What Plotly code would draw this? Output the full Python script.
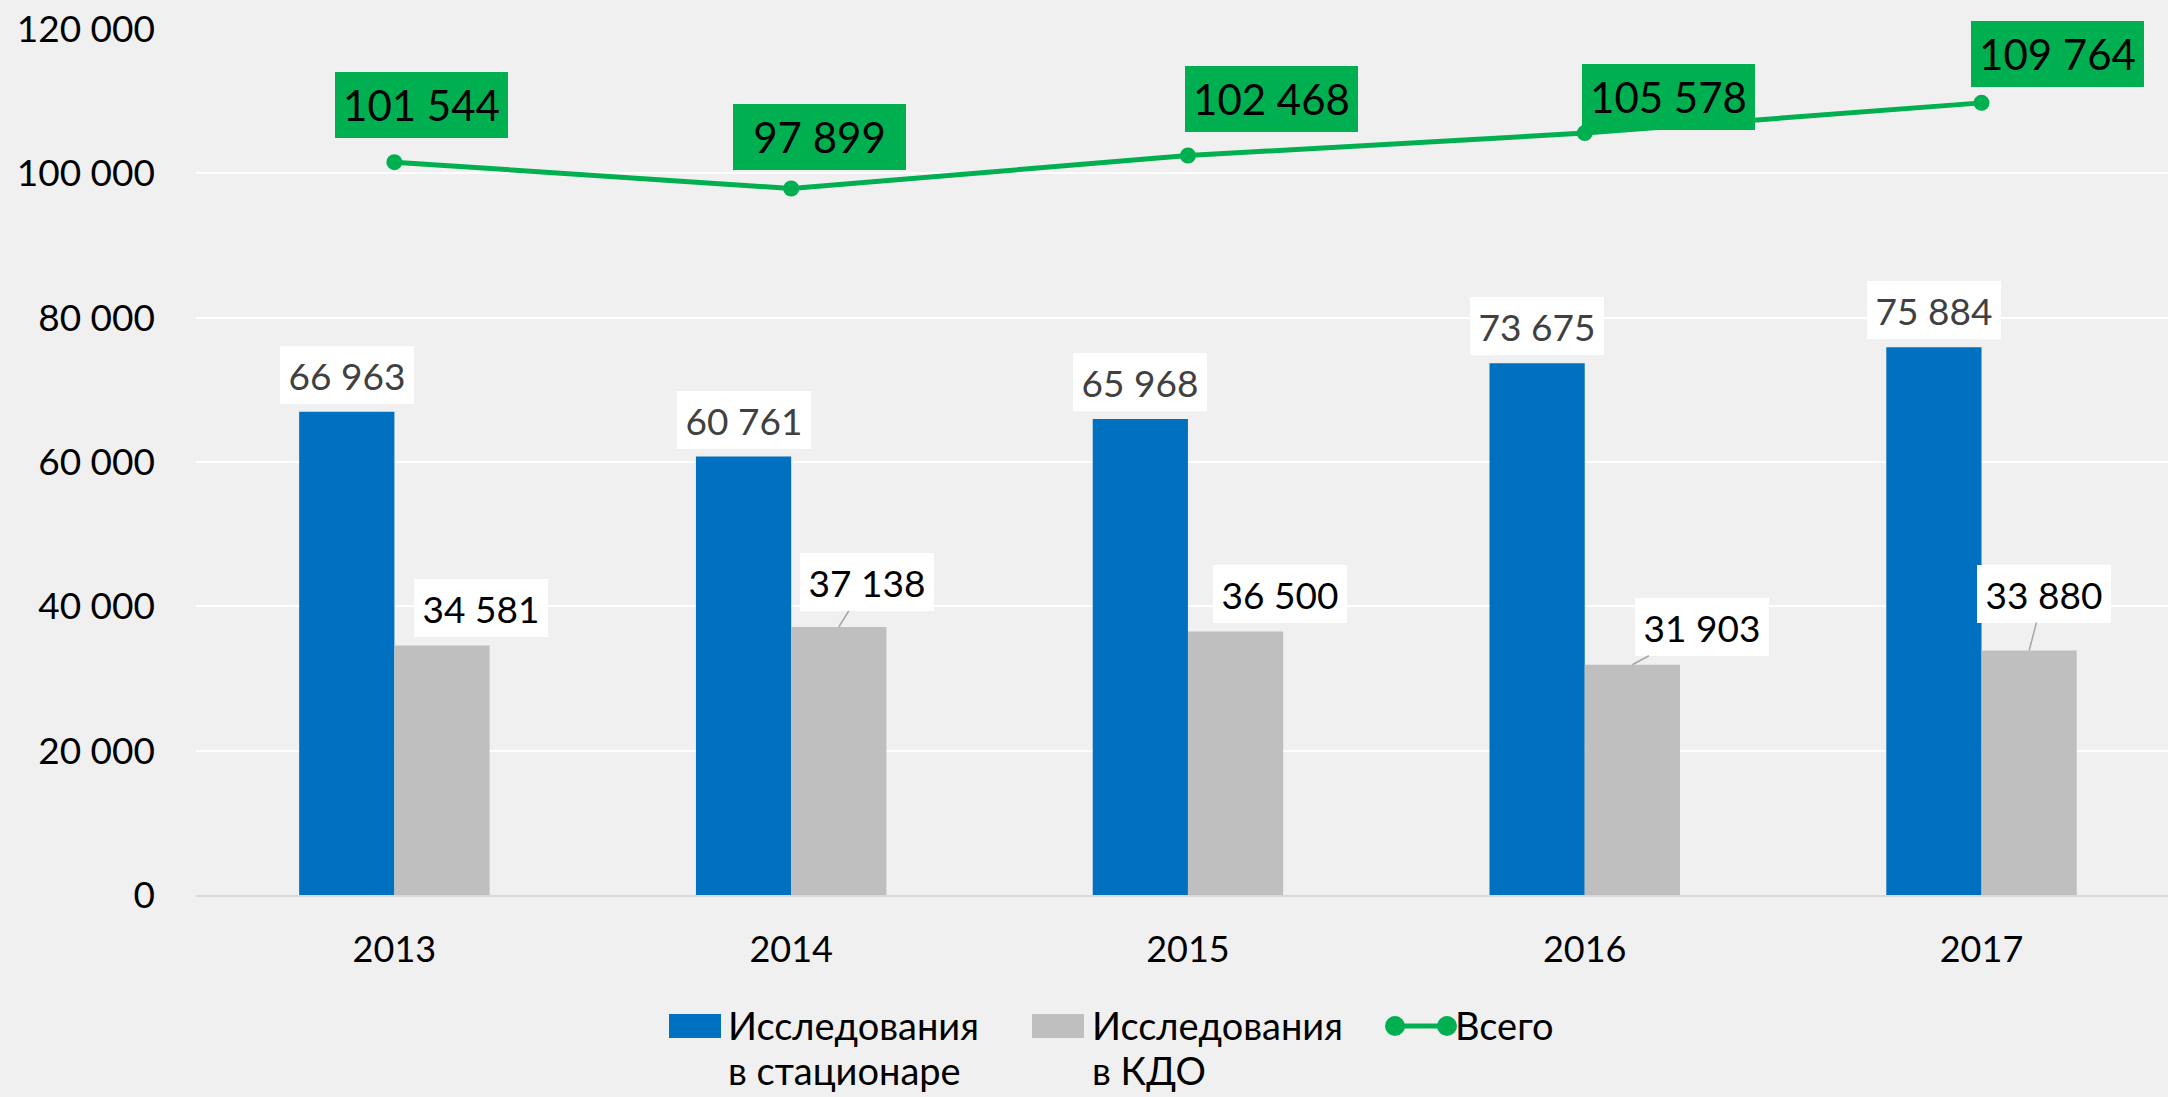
import plotly.graph_objects as go

years = ["2013", "2014", "2015", "2016", "2017"]
inpatient = [66963, 60761, 65968, 73675, 75884]
kdo = [34581, 37138, 36500, 31903, 33880]
total = [101544, 97899, 102468, 105578, 109764]

name_inpatient = ["Исследования", "в стационаре"]
name_kdo = ["Исследования", "в КДО"]
name_total = "Всего"

# label placement (pixel offsets of the label box centre from its point)
total_dx = [27, 28, 84, 84, 76]
total_dy = [-57, -52, -57, -36, -49]
kdo_dx = [39, 28, 44, 70, 15]
kdo_dy = [-37, -45, -38, -38, -57]
kdo_leader = [False, True, False, True, True]

FONT = "Lato, 'Noto Sans', sans-serif"
BLUE = "#0070C0"
GREY = "#BFBFBF"
GREEN = "#00B050"
BG = "#F0F0F0"

W, H = 2168, 1097
ML, MR, MT, MB = 196, 0, 29, 202
PW = W - ML - MR
PH = H - MT - MB

BARGAP = 0.52
half = (1 - BARGAP) / 4  # centre offset of each bar in a group


def fmt(v):
    return f"{v:,}".replace(",", " ")


def px_x(px):
    return (px - ML) / PW


def px_y(py):
    return (H - MB - py) / PH


fig = go.Figure()
fig.add_trace(go.Bar(x=years, y=inpatient, name=" ".join(name_inpatient),
                     marker=dict(color=BLUE, line=dict(width=0))))
fig.add_trace(go.Bar(x=years, y=kdo, name=" ".join(name_kdo),
                     marker=dict(color=GREY, line=dict(width=0))))
fig.add_trace(go.Scatter(x=years, y=total, name=name_total, mode="lines+markers",
                         line=dict(color=GREEN, width=5),
                         marker=dict(color=GREEN, size=16)))

ann = []
for i, v in enumerate(inpatient):
    ann.append(dict(x=i - half, y=v, xref="x", yref="y", text=fmt(v),
                    showarrow=False, xanchor="center", yanchor="bottom", yshift=8,
                    bgcolor="white", borderwidth=0, borderpad=7, width=120, height=44,
                    font=dict(family=FONT, size=37, color="#404040")))
for i, v in enumerate(kdo):
    base = dict(x=i + half, y=v, xref="x", yref="y", text=fmt(v),
                bgcolor="white", borderwidth=0, borderpad=7, width=120, height=44,
                font=dict(family=FONT, size=37, color="#000000"))
    if kdo_leader[i]:
        base.update(showarrow=True, ax=kdo_dx[i], ay=kdo_dy[i], axref="pixel", ayref="pixel",
                    arrowhead=0, arrowwidth=1.5, arrowcolor="#A6A6A6", standoff=0)
    else:
        base.update(showarrow=False, xanchor="center", yanchor="middle",
                    xshift=kdo_dx[i], yshift=-kdo_dy[i])
    ann.append(base)
for i, v in enumerate(total):
    ann.append(dict(x=i, y=v, xref="x", yref="y", text=fmt(v),
                    showarrow=False, xanchor="center", yanchor="middle",
                    xshift=total_dx[i], yshift=-total_dy[i],
                    bgcolor=GREEN, borderwidth=0, borderpad=8, width=157, height=50,
                    font=dict(family=FONT, size=42, color="#000000")))

# ---- custom legend (layout elements, in pixel positions of the page) ----
LEG_FONT = dict(family=FONT, size=38, color="#000000")
ROW1, ROW2 = 1025, 1070
shapes = []
legend_items = [
    (669, 727, BLUE, name_inpatient),
    (1032, 1091, GREY, name_kdo),
]
for x0, tx, col, lines in legend_items:
    shapes.append(dict(type="rect", xref="paper", yref="paper",
                       x0=px_x(x0), x1=px_x(x0 + 52), y0=px_y(1038), y1=px_y(1014),
                       fillcolor=col, line=dict(width=0), layer="above"))
    for ln, row in zip(lines, (ROW1, ROW2)):
        ann.append(dict(x=px_x(tx), y=px_y(row), xref="paper", yref="paper", text=ln,
                        showarrow=False, xanchor="left", yanchor="middle",
                        borderpad=0, font=LEG_FONT))
shapes.append(dict(type="line", xref="paper", yref="paper",
                   x0=px_x(1395), x1=px_x(1447), y0=px_y(1026), y1=px_y(1026),
                   line=dict(color=GREEN, width=5), layer="above"))
for cx in (1395, 1447):
    shapes.append(dict(type="circle", xref="paper", yref="paper",
                       xsizemode="pixel", ysizemode="pixel",
                       xanchor=px_x(cx), yanchor=px_y(1026),
                       x0=-10, x1=10, y0=-10, y1=10,
                       fillcolor=GREEN, line=dict(width=0), layer="above"))
ann.append(dict(x=px_x(1454), y=px_y(ROW1), xref="paper", yref="paper", text=name_total,
                showarrow=False, xanchor="left", yanchor="middle",
                borderpad=0, font=LEG_FONT))

fig.update_layout(
    width=W, height=H,
    margin=dict(l=ML, r=MR, t=MT, b=MB, pad=0, autoexpand=False),
    paper_bgcolor=BG, plot_bgcolor=BG,
    barmode="group", bargap=BARGAP, bargroupgap=0,
    separators=", ",
    font=dict(family=FONT, size=37, color="#000000"),
    annotations=ann,
    shapes=shapes,
    showlegend=False,
    hovermode=False,
)
fig.update_xaxes(type="category", range=[-0.5, 4.47], showgrid=False,
                 showline=True, linecolor="#D9D9D9", linewidth=2,
                 ticks="outside", ticklen=22, tickcolor="rgba(0,0,0,0)",
                 tickfont=dict(family=FONT, size=36, color="#000000"))
fig.update_yaxes(range=[0, 120000], dtick=20000, tickformat=",d",
                 showgrid=True, gridcolor="#FFFFFF", gridwidth=2,
                 zeroline=False, showline=False, ticklabelstandoff=40,
                 tickfont=dict(family=FONT, size=37, color="#000000"))

fig.write_html(
    "out.html",
    config={"displayModeBar": False},
    post_script="document.body.style.margin='0';document.body.style.overflow='hidden';"
                "document.body.style.background='" + BG + "';",
)
